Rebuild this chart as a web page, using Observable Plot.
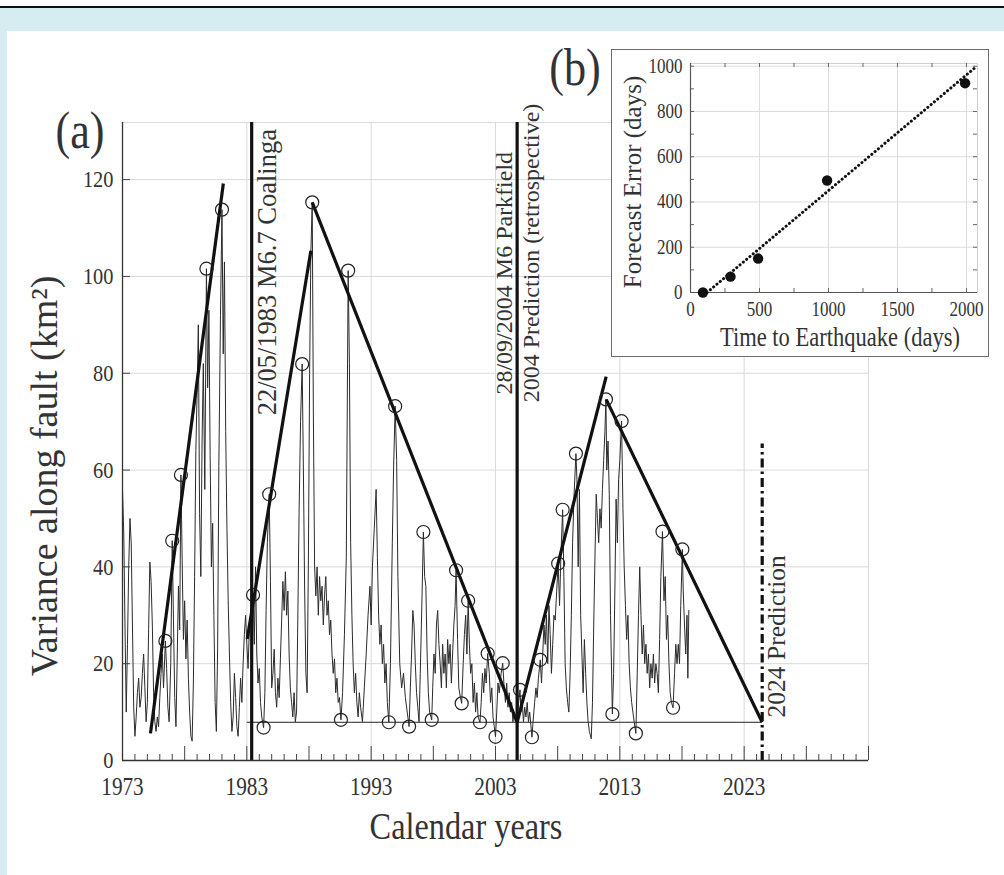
<!DOCTYPE html>
<html><head><meta charset="utf-8">
<script src="https://cdn.jsdelivr.net/npm/d3@7"></script>
<script src="https://cdn.jsdelivr.net/npm/@observablehq/plot@0.6"></script>
<style>
html,body{margin:0;padding:0;background:#fff;}
#page{position:relative;width:1004px;height:875px;overflow:hidden;background:#fff;font-family:"Liberation Serif","Times New Roman",serif;}
#topline{position:absolute;left:0;top:6px;width:1004px;height:2px;background:#111;}
#blue{position:absolute;left:0;top:8px;width:1004px;height:867px;background:#d6ecf1;}
#panel{position:absolute;left:7px;top:31px;width:997px;height:844px;background:#fff;}
#main{position:absolute;left:0;top:0;}
#inset{position:absolute;left:611px;top:49px;width:376px;height:306px;border:1.5px solid #6b6b6b;background:#fff;}
.lbl{position:absolute;color:#333;white-space:nowrap;line-height:1;}
</style>
</head><body>
<div id="page">
  <div id="topline"></div>
  <div id="blue"></div>
  <div id="panel"></div>
  <div id="main"></div>
  <div id="inset"></div>
</div>
<script>
// ---------- data (main panel a) ----------
const xTickYears = [1973, 1983, 1993, 2003, 2013, 2023];
const yTickValues = [0, 20, 40, 60, 80, 100, 120];
const gridYears = [1983, 1993, 2003, 2013, 2023, 2033];
const gridValues = [20, 40, 60, 80, 100, 120];

// variance along fault (km^2): [year, value]
const variance = [
[1973.0,56],[1973.1,47],[1973.2,28],[1973.3,10],[1973.4,24],[1973.5,40],[1973.6,50],[1973.7,45],[1973.8,28],[1973.9,11],[1974.0,5],[1974.1,9],[1974.2,14],[1974.3,17],[1974.4,11],[1974.5,13],[1974.6,18],[1974.7,22],[1974.8,15],[1974.9,8],[1975.0,12],[1975.1,27],[1975.2,41],[1975.3,37],[1975.4,28],[1975.5,14],[1975.6,8],[1975.7,6],[1975.8,9],[1975.9,7],[1976.0,13],[1976.1,18],[1976.2,22],[1976.3,15],[1976.45,24.7],[1976.55,19],[1976.65,11],[1976.75,8],[1976.88,20],[1977.0,45.4],[1977.1,29],[1977.2,13],[1977.3,7],[1977.4,21],[1977.5,36],[1977.6,27],[1977.7,59],[1977.8,41],[1977.9,25],[1978.0,33],[1978.1,21],[1978.2,29],[1978.3,17],[1978.4,10],[1978.5,5],[1978.6,4],[1978.7,16],[1978.8,38],[1978.9,64],[1979.0,76],[1979.1,90],[1979.2,51],[1979.3,38],[1979.4,66],[1979.5,82],[1979.62,56],[1979.75,101.6],[1979.85,77],[1979.95,93],[1980.05,63],[1980.15,40],[1980.25,49],[1980.35,30],[1980.45,12],[1980.55,6],[1980.65,23],[1980.75,61],[1980.88,92],[1981.0,113.8],[1981.1,84],[1981.2,103],[1981.3,68],[1981.4,48],[1981.5,33],[1981.6,22],[1981.7,12],[1981.8,6],[1981.9,9],[1982.0,18],[1982.1,13],[1982.2,7],[1982.3,5],[1982.4,11],[1982.5,17],[1982.6,12],[1982.7,20],[1982.8,26],[1982.9,30],[1983.0,24],[1983.1,19],[1983.2,27],[1983.35,31],[1983.5,34.2],[1983.6,24],[1983.7,40],[1983.8,22],[1983.9,16],[1984.0,19],[1984.1,12],[1984.2,9],[1984.35,6.8],[1984.45,14],[1984.55,31],[1984.65,45],[1984.8,55],[1984.9,37],[1985.0,15],[1985.1,18],[1985.2,23],[1985.3,14],[1985.4,11],[1985.5,17],[1985.6,13],[1985.7,21],[1985.8,29],[1985.9,37],[1986.0,31],[1986.1,39],[1986.2,30],[1986.3,35],[1986.4,22],[1986.5,15],[1986.6,12],[1986.7,9],[1986.8,14],[1986.9,8],[1987.0,10],[1987.1,29],[1987.2,51],[1987.32,70],[1987.45,81.9],[1987.55,60],[1987.65,35],[1987.75,18],[1987.85,14],[1987.95,41],[1988.05,80],[1988.15,105],[1988.26,115.3],[1988.35,72],[1988.45,40],[1988.55,34],[1988.65,40],[1988.75,30],[1988.85,38],[1988.95,33],[1989.05,36],[1989.15,28],[1989.25,34],[1989.35,38],[1989.45,30],[1989.55,33],[1989.65,26],[1989.75,29],[1989.85,22],[1989.95,18],[1990.05,21],[1990.15,14],[1990.25,17],[1990.35,12],[1990.45,13],[1990.57,8.4],[1990.7,14],[1990.85,26],[1991.0,42],[1991.15,101.2],[1991.25,82],[1991.35,45],[1991.45,30],[1991.55,20],[1991.65,14],[1991.75,18],[1991.85,12],[1991.95,9],[1992.05,14],[1992.15,11],[1992.3,8],[1992.45,15],[1992.6,22],[1992.75,30],[1992.9,36],[1993.0,28],[1993.1,40],[1993.25,48],[1993.4,56],[1993.5,42],[1993.6,30],[1993.7,24],[1993.8,28],[1993.9,20],[1994.0,24],[1994.1,16],[1994.2,20],[1994.3,12],[1994.42,7.9],[1994.55,20],[1994.7,45],[1994.8,60],[1994.93,73.2],[1995.05,62],[1995.15,38],[1995.3,20],[1995.45,15],[1995.6,18],[1995.75,13],[1995.9,10],[1996.05,7.0],[1996.15,15],[1996.25,22],[1996.35,31],[1996.45,28],[1996.55,20],[1996.65,14],[1996.75,11],[1996.85,8],[1996.95,18],[1997.1,35],[1997.2,47.2],[1997.3,38],[1997.4,36],[1997.5,22],[1997.6,14],[1997.7,10],[1997.87,8.4],[1997.95,15],[1998.05,22],[1998.15,18],[1998.25,28],[1998.35,31],[1998.45,24],[1998.55,20],[1998.65,15],[1998.75,24],[1998.85,18],[1998.95,22],[1999.05,15],[1999.15,25],[1999.25,20],[1999.35,24],[1999.45,16],[1999.55,22],[1999.65,28],[1999.75,32],[1999.83,39.3],[1999.95,25],[2000.05,15],[2000.18,13],[2000.28,11.8],[2000.4,20],[2000.5,26],[2000.6,30],[2000.7,22],[2000.8,33],[2000.9,24],[2001.0,18],[2001.1,20],[2001.2,12],[2001.3,16],[2001.4,10],[2001.5,14],[2001.6,9],[2001.75,7.9],[2001.85,12],[2001.95,18],[2002.05,14],[2002.15,19],[2002.25,16],[2002.37,22.1],[2002.5,18],[2002.6,12],[2002.7,15],[2002.8,9],[2002.9,7],[2003.0,4.9],[2003.1,10],[2003.2,16],[2003.3,14],[2003.45,18],[2003.58,20.1],[2003.7,15],[2003.8,12],[2003.9,16],[2004.0,11],[2004.1,14],[2004.2,10],[2004.3,12],[2004.4,8],[2004.5,10],[2004.6,8],[2004.7,9],[2004.82,11],[2004.97,14.6],[2005.05,10],[2005.15,12],[2005.25,8],[2005.35,11],[2005.45,9],[2005.55,12],[2005.65,8],[2005.75,10],[2005.93,4.8],[2006.05,9],[2006.15,12],[2006.25,15],[2006.35,13],[2006.45,17],[2006.6,20.8],[2006.7,16],[2006.8,22],[2006.9,28],[2007.0,24],[2007.1,30],[2007.2,20],[2007.3,32],[2007.4,26],[2007.5,18],[2007.6,24],[2007.7,30],[2007.8,29],[2007.92,35],[2008.04,40.7],[2008.15,32],[2008.27,43],[2008.4,51.8],[2008.5,38],[2008.6,20],[2008.7,15],[2008.8,12],[2008.9,10],[2009.0,18],[2009.1,30],[2009.2,45],[2009.32,55],[2009.47,63.4],[2009.55,58],[2009.65,40],[2009.75,56],[2009.85,30],[2009.95,22],[2010.05,14],[2010.15,25],[2010.25,18],[2010.35,12],[2010.45,8],[2010.55,6],[2010.7,4.5],[2010.8,12],[2010.9,28],[2011.0,42],[2011.1,55],[2011.2,50],[2011.3,45],[2011.4,52],[2011.5,48],[2011.6,56],[2011.7,62],[2011.8,68],[2011.88,74.6],[2011.95,60],[2012.05,66],[2012.15,55],[2012.25,30],[2012.4,9.6],[2012.5,18],[2012.6,35],[2012.7,54],[2012.8,45],[2012.9,58],[2013.0,62],[2013.14,70.1],[2013.25,52],[2013.35,40],[2013.45,32],[2013.55,25],[2013.65,30],[2013.75,20],[2013.85,15],[2013.95,12],[2014.05,10],[2014.15,8],[2014.29,5.6],[2014.4,18],[2014.5,30],[2014.6,40],[2014.7,30],[2014.8,22],[2014.9,28],[2015.0,20],[2015.1,24],[2015.2,18],[2015.3,22],[2015.4,15],[2015.5,20],[2015.6,17],[2015.7,22],[2015.8,16],[2015.9,20],[2016.0,18],[2016.1,14],[2016.2,25],[2016.3,38],[2016.43,47.3],[2016.55,33],[2016.65,38],[2016.75,25],[2016.85,30],[2016.95,20],[2017.05,14],[2017.15,12],[2017.28,10.9],[2017.4,18],[2017.5,24],[2017.6,20],[2017.7,24],[2017.8,20],[2017.9,32],[2018.03,43.6],[2018.1,35],[2018.2,28],[2018.3,22],[2018.4,30],[2018.47,17],[2018.55,31]
];

// circled extrema: [year, value]
const circled = [
[1976.45,24.7],[1977.0,45.4],[1977.7,59],[1979.75,101.6],[1981.0,113.8],[1983.5,34.2],[1984.35,6.8],[1984.8,55],[1987.45,81.9],[1988.26,115.3],[1990.57,8.4],[1991.15,101.2],[1994.42,7.9],[1994.93,73.2],[1996.05,7.0],[1997.2,47.2],[1997.87,8.4],[1999.83,39.3],[2000.28,11.8],[2000.8,33],[2001.75,7.9],[2002.37,22.1],[2003.0,4.9],[2003.58,20.1],[2004.97,14.6],[2005.93,4.8],[2006.6,20.8],[2008.04,40.7],[2008.4,51.8],[2009.47,63.4],[2011.88,74.6],[2012.4,9.6],[2013.14,70.1],[2014.29,5.6],[2016.43,47.3],[2017.28,10.9],[2018.03,43.6]
];

// trend lines: start year, start value, end year, end value
const trendStartYear = [1975.25, 1983.03, 1988.26, 2004.74, 2011.9];
const trendStartValue = [5.6, 25.1, 115.3, 7.9, 74.6];
const trendEndYear = [1981.11, 1988.15, 2004.74, 2011.9, 2024.45];
const trendEndValue = [119.2, 105.3, 7.9, 79.3, 7.9];

const baselineValue = 7.9;
const baselineFrom = 1983.03, baselineTo = 2024.45;

const eventYears = [1983.39, 2004.74];
const predictionYear = 2024.45, predictionTop = 65.4;

const annotationText = ["22/05/1983 M6.7 Coalinga", "28/09/2004 M6 Parkfield", "2004 Prediction (retrospective)", "2024 Prediction"];
const annotationYear = [1983.39, 2004.74, 2004.74, 2024.45];
const annotationValue = [71.3, 75.6, 74.0, 8.9];
const annotationSide = ["right", "left", "right", "right"];
const annotationSize = [26.5, 24, 24, 25.5];

// ---------- data (inset b) ----------
const timeToQuake = [90, 290, 490, 990, 1990];
const forecastError = [0, 70, 150, 495, 925];
const fitDays = [120, 2075];
const fitError = [0, 1000];
const insetXTicks = [0, 500, 1000, 1500, 2000];
const insetYTicks = [0, 200, 400, 600, 800, 1000];

// ---------- build ----------
const FONT = "Liberation Serif, Times New Roman, serif";
const SQ = 0.85; // horizontal condensation of horizontal text

function condense(svg, s, sRot) {
  d3.select(svg).selectAll("text").each(function() {
    const t = this.getAttribute("transform");
    if (t) {
      const rotated = /rotate\(/.test(t);
      this.setAttribute("transform", t + (rotated ? ` scale(1,${sRot})` : ` scale(${s},1)`));
    } else {
      const x = +this.getAttribute("x") || 0, y = +this.getAttribute("y") || 0;
      this.setAttribute("transform", `translate(${x},${y}) scale(${s},1) translate(${-x},${-y})`);
    }
  });
}

const W = 1004, H = 875, mL = 122, mR = 136, mT = 122, mB = 115;
const plotW = W - mL - mR, plotH = H - mT - mB;

const series = variance.map(([year, value]) => ({year, value}));
const circles = circled.map(([year, value]) => ({year, value}));
const trends = trendStartYear.map((d, i) => ({x1: d, y1: trendStartValue[i], x2: trendEndYear[i], y2: trendEndValue[i]}));
const annotations = annotationText.map((t, i) => ({text: t, year: annotationYear[i], value: annotationValue[i], side: annotationSide[i], size: annotationSize[i]}));
const allYears = d3.range(1973, 2034);
const minorYears = allYears.filter(y => (y - 1973) % 5 !== 0);
const fiveYears = allYears.filter(y => (y - 1973) % 5 === 0 && y !== 1973);

const main = Plot.plot({
  width: W, height: H,
  marginLeft: mL, marginRight: mR, marginTop: mT, marginBottom: mB,
  x: {domain: [1973, 2033]},
  y: {domain: [0, 131.8]},
  style: {background: "transparent", fontFamily: FONT, color: "#333", overflow: "visible"},
  marks: [
    Plot.gridX(gridYears, {stroke: "#d9d9d9", strokeOpacity: 1}),
    Plot.gridY(gridValues, {stroke: "#d9d9d9", strokeOpacity: 1}),
    Plot.frame({stroke: "#d9d9d9"}),
    Plot.line(series, {x: "year", y: "value", stroke: "#2b2b2b", strokeWidth: 1}),
    Plot.ruleY([baselineValue], {x1: baselineFrom, x2: baselineTo, stroke: "#222", strokeWidth: 1}),
    Plot.link(trends, {x1: "x1", y1: "y1", x2: "x2", y2: "y2", stroke: "#111", strokeWidth: 3.2}),
    Plot.dot(circles, {x: "year", y: "value", r: 6.5, stroke: "#222", strokeWidth: 1.2, fill: "none"}),
    Plot.ruleX(eventYears, {stroke: "#111", strokeWidth: 3.2}),
    Plot.ruleX([predictionYear], {y1: 0, y2: predictionTop, stroke: "#111", strokeWidth: 3.2, strokeDasharray: "9,4,2.5,4"}),
    Plot.ruleX(minorYears, {insetTop: plotH - 6, stroke: "#444"}),
    Plot.ruleX(fiveYears, {insetTop: plotH - 14, stroke: "#444"}),
    Plot.ruleY(yTickValues, {insetRight: plotW - 8, stroke: "#444"}),
    Plot.ruleX([1973], {stroke: "#333", strokeWidth: 1.3}),
    Plot.ruleY([0], {stroke: "#333", strokeWidth: 1.3}),
    Plot.axisX({ticks: xTickYears, tickSize: 0, tickPadding: 17, fontSize: 25, tickFormat: d => String(d), label: null, fill: "#333"}),
    Plot.axisY({ticks: yTickValues, tickSize: 0, tickPadding: 9, fontSize: 24, label: null, fill: "#333"}),
    Plot.text(annotations.filter(d => d.side === "right"), {x: "year", y: "value", text: "text", fontSize: "size", rotate: -90, textAnchor: "start", lineAnchor: "top", dx: 5, fill: "#333"}),
    Plot.text(annotations.filter(d => d.side === "left"), {x: "year", y: "value", text: "text", fontSize: "size", rotate: -90, textAnchor: "start", lineAnchor: "bottom", dx: -5, fill: "#333"})
  ]
});
condense(main, SQ, 1);
document.getElementById("main").appendChild(main);

const iW = 376, iH = 306, imL = 78, imR = 11, imT = 13, imB = 64;
const iPW = iW - imL - imR, iPH = iH - imT - imB;
const forecast = timeToQuake.map((d, i) => ({days: d, error: forecastError[i]}));
const fit = fitDays.map((d, i) => ({days: d, error: fitError[i]}));

const inset = Plot.plot({
  width: iW, height: iH,
  marginLeft: imL, marginRight: imR, marginTop: imT, marginBottom: imB,
  x: {domain: [0, 2080]},
  y: {domain: [0, 1012]},
  style: {background: "#fff", fontFamily: FONT, color: "#333", overflow: "visible"},
  marks: [
    Plot.gridX([500, 1000, 1500, 2000], {stroke: "#dcdcdc", strokeOpacity: 1}),
    Plot.gridY([200, 400, 600, 800, 1000], {stroke: "#dcdcdc", strokeOpacity: 1}),
    Plot.frame({stroke: "#cfcfcf"}),
    Plot.ruleY(d3.range(100, 1001, 100), {insetRight: iPW - 4, stroke: "#666"}),
    Plot.ruleY(d3.range(100, 1001, 100), {insetLeft: iPW - 4, stroke: "#666"}),
    Plot.ruleX(d3.range(250, 2001, 250), {insetTop: iPH - 4, stroke: "#666"}),
    Plot.ruleX(d3.range(250, 2001, 250), {insetBottom: iPH - 4, stroke: "#666"}),
    Plot.ruleX([0], {stroke: "#555", strokeWidth: 1.2}),
    Plot.ruleY([0], {stroke: "#555", strokeWidth: 1.2}),
    Plot.line(fit, {x: "days", y: "error", stroke: "#111", strokeWidth: 3, strokeLinecap: "round", strokeDasharray: "0.1,4.2"}),
    Plot.dot(forecast, {x: "days", y: "error", r: 5.2, fill: "#111"}),
    Plot.axisX({ticks: insetXTicks, tickSize: 0, tickPadding: 9, fontSize: 20, tickFormat: d => String(d), label: null, fill: "#333"}),
    Plot.axisY({ticks: insetYTicks, tickSize: 0, tickPadding: 8, fontSize: 20, tickFormat: d => String(d), label: null, fill: "#333"})
  ]
});
condense(inset, SQ, 1);
document.getElementById("inset").appendChild(inset);

// ---------- text labels ----------
function label(text, cx, cy, size, rotate, s) {
  const d = document.createElement("div");
  d.className = "lbl";
  d.textContent = text;
  d.style.left = cx + "px";
  d.style.top = cy + "px";
  d.style.fontSize = size + "px";
  d.style.transform = rotate
    ? `translate(-50%,-50%) rotate(-90deg) scaleY(${s})`
    : `translate(-50%,-50%) scaleX(${s})`;
  document.getElementById("page").appendChild(d);
}
label("(a)", 80, 131, 52, false, SQ);
label("(b)", 575, 68, 52, false, SQ);
label("Calendar years", 466, 826, 38, false, SQ);
label("Variance along fault (km\u00B2)", 44, 476, 38, true, 1);
label("Forecast Error (days)", 632, 182, 25, true, 1);
label("Time to Earthquake (days)", 840, 337, 26.5, false, SQ);
</script>
</body></html>
